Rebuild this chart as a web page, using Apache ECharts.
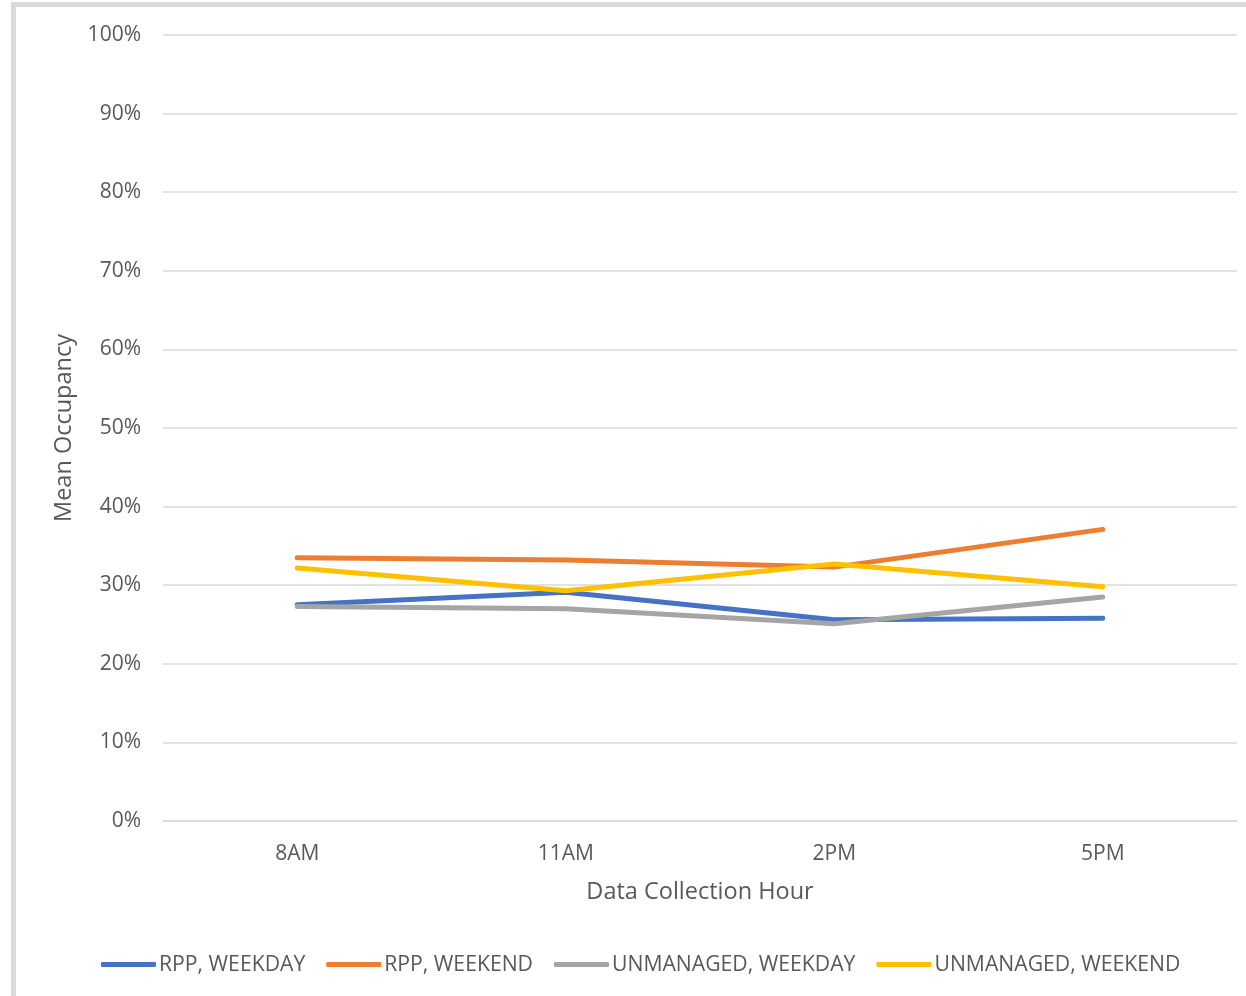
<!DOCTYPE html>
<html>
<head>
<meta charset="utf-8">
<script src="https://cdn.jsdelivr.net/npm/echarts@6/dist/echarts.min.js"></script>
<style>
  html, body { margin: 0; padding: 0; background: #ffffff; }
  #frame {
    position: absolute; left: 11px; top: 2px; width: 1400px; height: 1200px;
    border-left: 5px solid #d9d9d9; border-top: 5px solid #d9d9d9;
    box-sizing: border-box;
  }
  #chart { position: absolute; left: 0; top: 0; width: 1246px; height: 996px; }
</style>
</head>
<body>
<div id="frame"></div>
<div id="chart"></div>
<script>
// Mean occupancy by data collection hour (percent)
const hours = ['8AM', '11AM', '2PM', '5PM'];
const rppWeekday = [27.5, 29.1, 25.6, 25.8];
const rppWeekend = [33.5, 33.2, 32.3, 37.1];
const unmanagedWeekday = [27.3, 27.0, 25.1, 28.5];
const unmanagedWeekend = [32.2, 29.3, 32.7, 29.8];
const seriesNames = ['RPP, WEEKDAY', 'RPP, WEEKEND', 'UNMANAGED, WEEKDAY', 'UNMANAGED, WEEKEND'];
const seriesColors = ['#4472c4', '#ed7d31', '#a5a5a5', '#ffc000'];

const font = '"Open Sans", "Liberation Sans", sans-serif';
const textColor = '#595959';

const chart = echarts.init(document.getElementById('chart'), null, { renderer: 'canvas' });

const makeLine = (name, data, color) => ({
  name: name,
  type: 'line',
  data: data,
  symbol: 'none',
  lineStyle: { color: color, width: 5, cap: 'round', join: 'round' },
  itemStyle: { color: color },
  emphasis: { disabled: true }
});

chart.setOption({
  animation: false,
  backgroundColor: 'transparent',
  grid: { left: 163, right: 9, top: 35, bottom: 175 },
  legend: {
    data: seriesNames,
    left: 96,
    top: 949,
    icon: 'roundRect',
    itemWidth: 55,
    itemHeight: 5,
    itemGap: 21,
    textStyle: { fontFamily: font, fontSize: 21.2, color: textColor, padding: [0, 0, 0, -2] }
  },
  xAxis: {
    type: 'category',
    data: hours,
    boundaryGap: true,
    name: 'Data Collection Hour',
    nameLocation: 'middle',
    nameGap: 59,
    nameTextStyle: { fontFamily: font, fontSize: 23.5, color: textColor },
    axisLine: { show: true, lineStyle: { color: '#d9d9d9', width: 1.5 } },
    axisTick: { show: false },
    axisLabel: { fontFamily: font, fontSize: 21, color: textColor, margin: 23 }
  },
  yAxis: {
    type: 'value',
    min: 0,
    max: 100,
    interval: 10,
    name: 'Mean Occupancy',
    nameLocation: 'middle',
    nameGap: 84,
    nameRotate: 90,
    nameTextStyle: { fontFamily: font, fontSize: 23.5, color: textColor },
    axisLine: { show: false },
    axisTick: { show: false },
    axisLabel: { fontFamily: font, fontSize: 21, color: textColor, margin: 22, formatter: '{value}%' },
    splitLine: { show: true, lineStyle: { color: '#d9d9d9', width: 1.5 } }
  },
  series: [
    makeLine(seriesNames[0], rppWeekday, seriesColors[0]),
    makeLine(seriesNames[1], rppWeekend, seriesColors[1]),
    makeLine(seriesNames[2], unmanagedWeekday, seriesColors[2]),
    makeLine(seriesNames[3], unmanagedWeekend, seriesColors[3])
  ]
});
</script>
</body>
</html>
